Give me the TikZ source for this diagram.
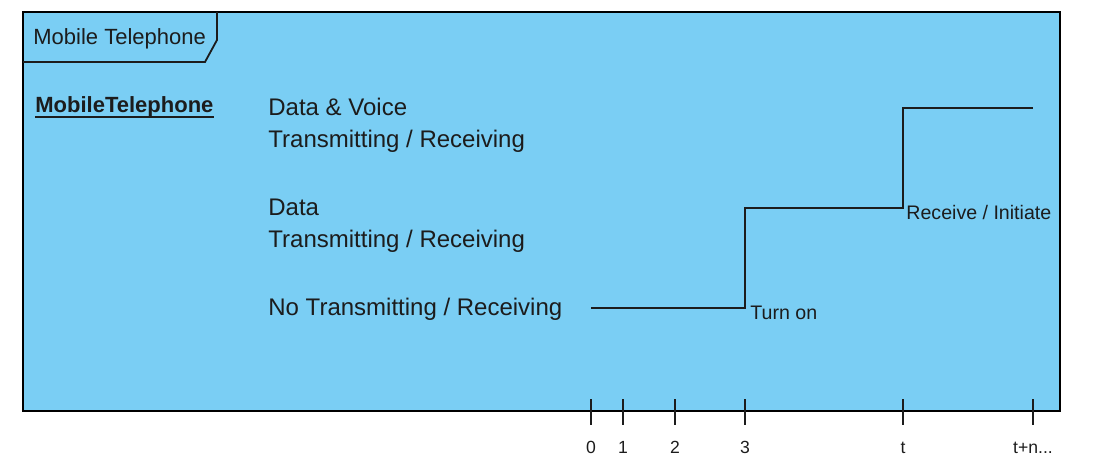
\documentclass[tikz,border=0pt]{standalone}
\usepackage{fontspec}
\setmainfont{Liberation Sans}
\usepackage{tikz}
\definecolor{frameblue}{RGB}{122,206,244}
\definecolor{inkgray}{RGB}{28,28,28}

\begin{document}
\begin{tikzpicture}[
  x=0.5pt,
  y=-0.5pt,
  state label/.style={anchor=base west, inner sep=0pt, text=inkgray,
    font=\fontsize{12}{14}\selectfont},
  event label/.style={anchor=base west, inner sep=0pt, text=inkgray,
    font=\fontsize{9.8}{12}\selectfont},
  tick label/.style={anchor=base, inner sep=0pt, text=inkgray,
    font=\fontsize{8.8}{10}\selectfont},
  tick mark/.style={draw=inkgray, line width=1pt},
  state line/.style={draw=inkgray, line width=1pt}
]
\useasboundingbox (0,0) rectangle (1099,465);
\draw[line width=1pt, fill=frameblue] (23,12) rectangle (1060,411);

\coordinate (tab bottom left) at (23,62);
\coordinate (tab bottom right) at (205,62);
\coordinate (tab corner) at (217,40);
\coordinate (tab top) at (217,12);
\draw[line width=0.9pt, draw=inkgray]
  (tab bottom left) -- (tab bottom right) -- (tab corner) -- (tab top);
\node[anchor=base west, inner sep=0pt, text=inkgray,
  font=\fontsize{11}{13}\selectfont] (frame title) at (33,45) {Mobile Telephone};

\node[anchor=base west, inner sep=0pt, text=inkgray,
  font=\fontsize{11}{13}\selectfont\bfseries] (lifeline) at (35,113) {MobileTelephone};
\draw[draw=inkgray, line width=0.8pt]
  ([yshift=-2pt]lifeline.base west) -- ([yshift=-2pt]lifeline.base east);

\node[state label] (voice a) at (268,116) {Data \& Voice};
\node[state label] (voice b) at (268,148) {Transmitting / Receiving};
\node[state label] (data a) at (268,216) {Data};
\node[state label] (data b) at (268,248) {Transmitting / Receiving};
\node[state label] (idle) at (268,315) {No Transmitting / Receiving};

\coordinate (s0) at (591,308);
\coordinate (s1) at (745,308);
\coordinate (s2) at (745,208);
\coordinate (s3) at (903,208);
\coordinate (s4) at (903,108);
\coordinate (s5) at (1033,108);
\draw[state line] (s0) -- (s1) -- (s2) -- (s3) -- (s4) -- (s5);

\node[event label] (turn on) at (750,320) {Turn on};
\node[event label] (receive) at (906,220) {Receive / Initiate};

\foreach \tx/\tl [count=\i] in {591/0, 623/1, 675/2, 745/3, 903/t, 1033/{t+n{.}{.}{.}}}{
  \coordinate (tick top \i) at (\tx,399);
  \coordinate (tick bottom \i) at (\tx,425);
  \draw[tick mark] (tick top \i) -- (tick bottom \i);
  \node[tick label] (tick \i) at (\tx,453) {\tl};
}
\end{tikzpicture}
\end{document}
